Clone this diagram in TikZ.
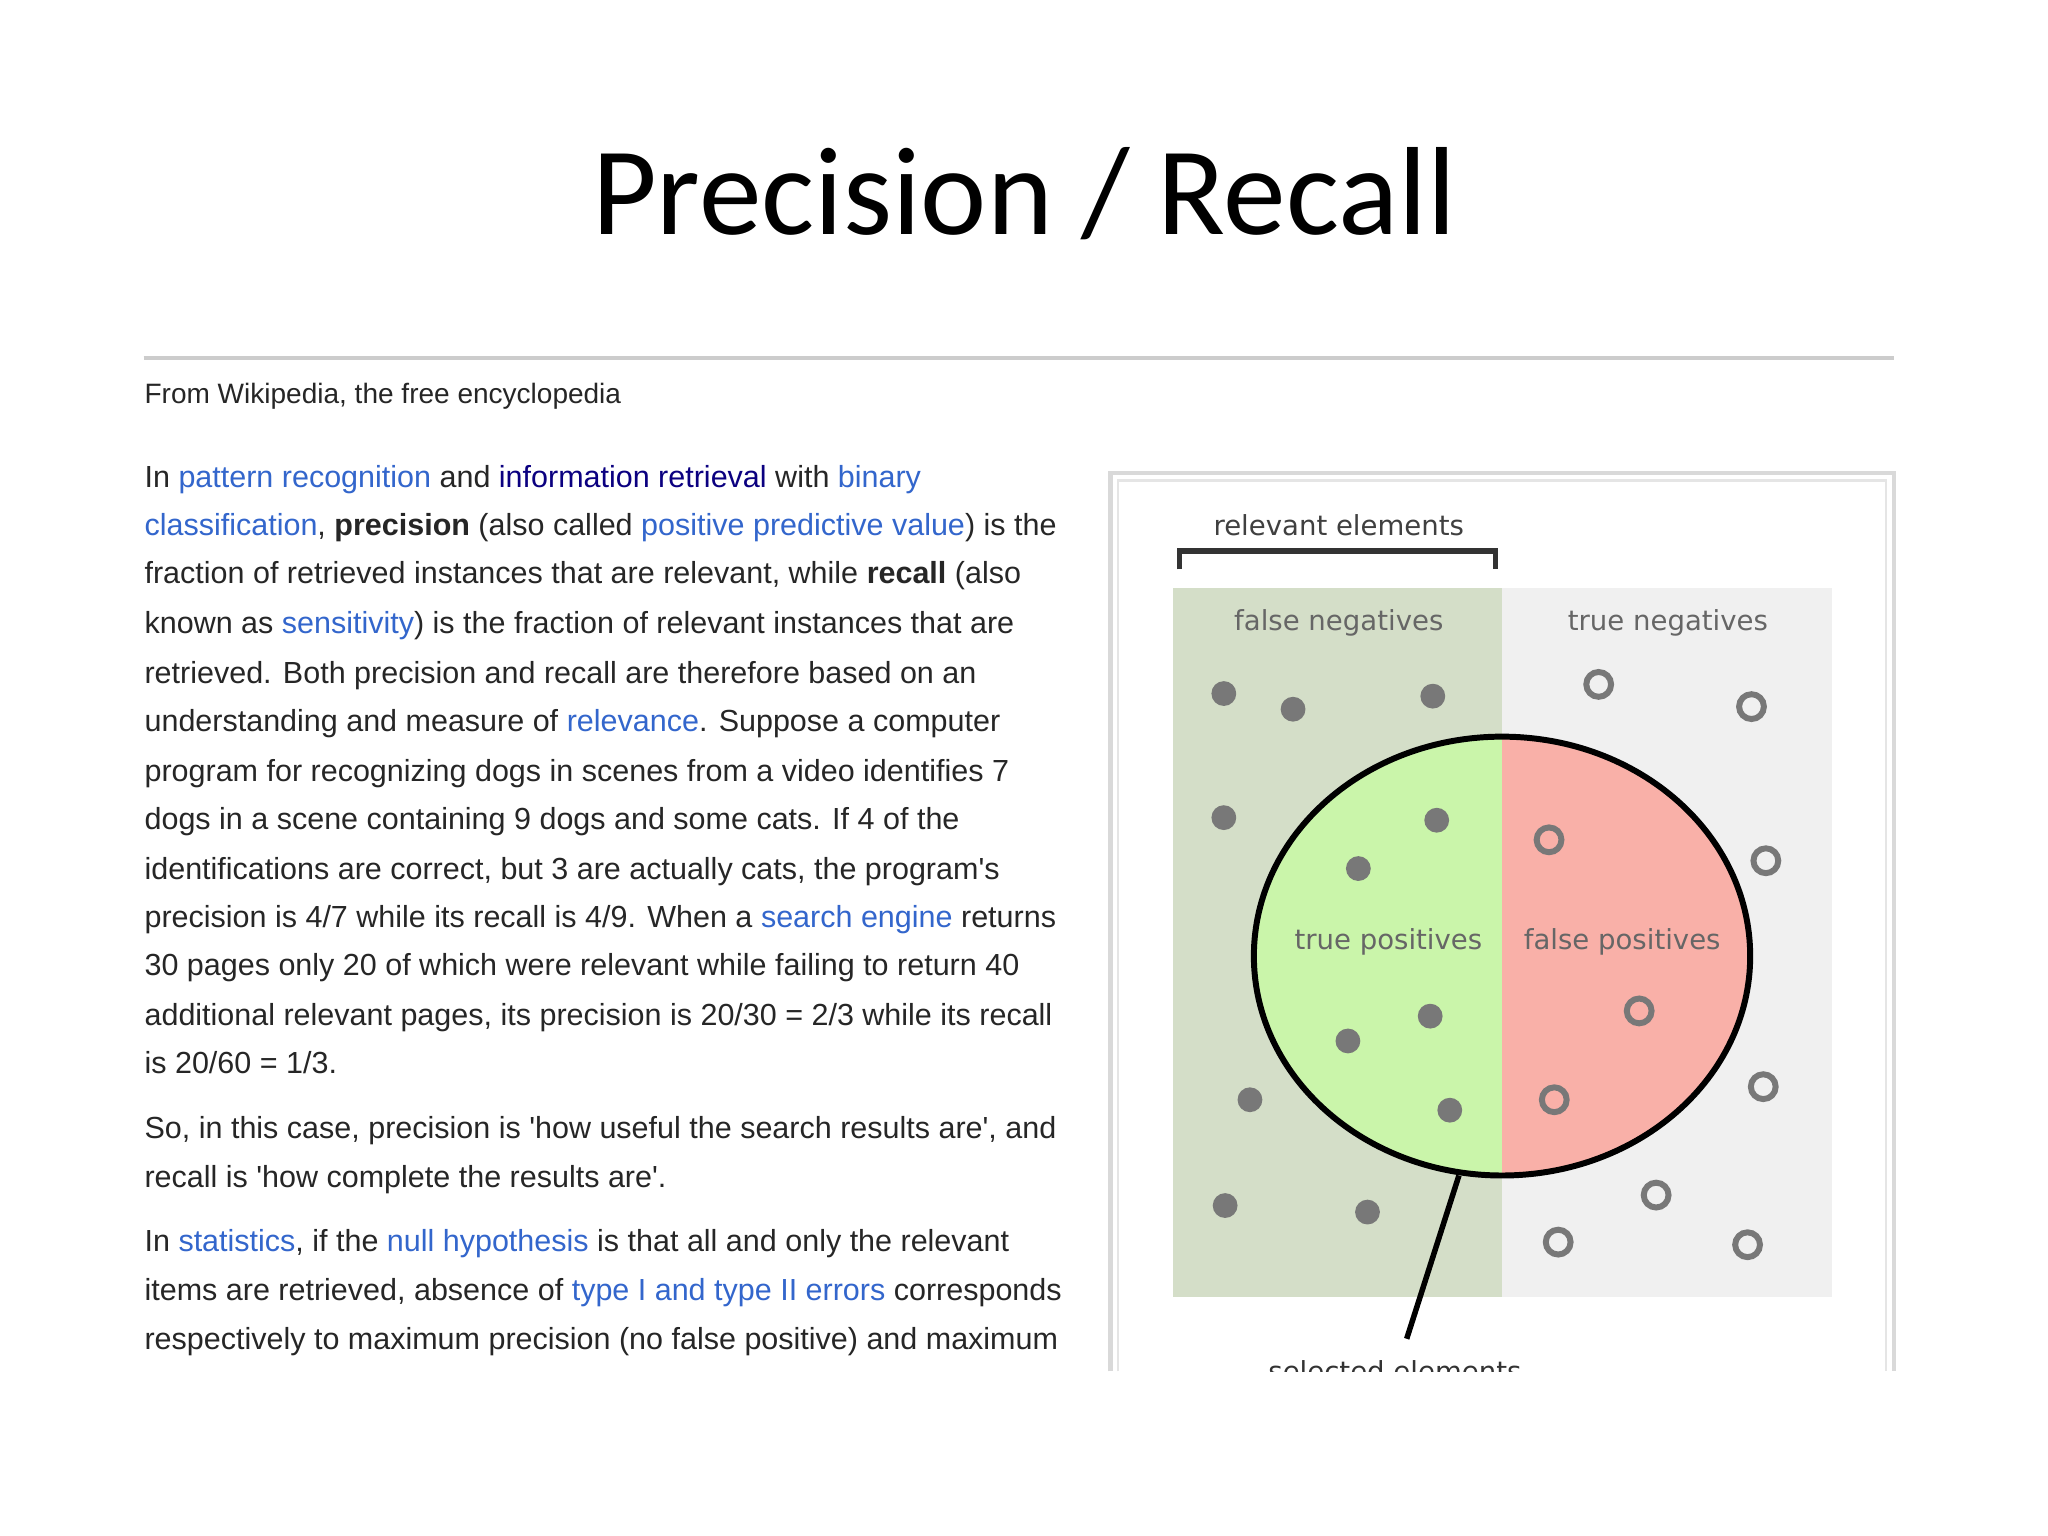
\documentclass[tikz,border=0pt]{standalone}
\usepackage{fontspec}
\setmainfont{Liberation Sans}
\newfontfamily\titlefont{Carlito}
\newfontfamily\dvs{DejaVu Sans}
\definecolor{lnk}{RGB}{51,102,204}
\definecolor{vis}{RGB}{11,0,128}
\definecolor{fn}{RGB}{212,222,200}
\definecolor{tn}{RGB}{240,240,240}
\definecolor{tp}{RGB}{202,245,170}
\definecolor{fp}{RGB}{249,176,168}
\definecolor{dot}{RGB}{120,120,120}
\newcommand\lk[1]{\textcolor{lnk}{#1}}
\newcommand\vk[1]{\textcolor{vis}{#1}}
\newcommand\sq{\textquotesingle}
\begin{document}
\begin{tikzpicture}[x=0.01cm,y=-0.01cm,
  body/.style={anchor=base west,inner sep=0,font=\fontsize{6.64}{8}\selectfont,text=black!85},
  lab/.style={font=\dvs\fontsize{6.0}{7}\selectfont,text=black!60,inner sep=0},
  fdot/.style={fill=dot,draw=none},
  hdot/.style={draw=dot,line width=1.3pt,fill=none}]
\useasboundingbox (0,0) rectangle (1568,1176);
\fill[white] (0,0) rectangle (1568,1176);
\node[font=\titlefont\fontsize{27.3}{33}\selectfont] (title) at (784,148) {Precision / Recall};
\draw[black!20,line width=0.8pt] (110,274) -- (1450,274);
\node[body,font=\fontsize{6.1}{7}\selectfont] (from) at (110,309) {From Wikipedia, the free encyclopedia};
\node[body] (l1) at (110,373) {In \lk{pattern recognition} and \vk{information retrieval} with \lk{binary}};
\node[body] (l2) at (110,410) {\lk{classification}, \textbf{precision} (also called \lk{positive predictive value}) is the};
\node[body] (l3) at (110,447) {fraction of retrieved instances that are relevant, while \textbf{recall} (also};
\node[body] (l4) at (110,485) {known as \lk{sensitivity}) is the fraction of relevant instances that are};
\node[body] (l5) at (110,523) {retrieved. Both precision and recall are therefore based on an};
\node[body] (l6) at (110,560) {understanding and measure of \lk{relevance}. Suppose a computer};
\node[body] (l7) at (110,598) {program for recognizing dogs in scenes from a video identifies 7};
\node[body] (l8) at (110,635) {dogs in a scene containing 9 dogs and some cats. If 4 of the};
\node[body] (l9) at (110,673) {identifications are correct, but 3 are actually cats, the program\sq s};
\node[body] (l10) at (110,710) {precision is 4/7 while its recall is 4/9. When a \lk{search engine} returns};
\node[body] (l11) at (110,747) {30 pages only 20 of which were relevant while failing to return 40};
\node[body] (l12) at (110,785) {additional relevant pages, its precision is 20/30 = 2/3 while its recall};
\node[body] (l13) at (110,822) {is 20/60 = 1/3.};
\node[body] (l14) at (110,872) {So, in this case, precision is \sq how useful the search results are\sq, and};
\node[body] (l15) at (110,909) {recall is \sq how complete the results are\sq.};
\node[body] (l16) at (110,958) {In \lk{statistics}, if the \lk{null hypothesis} is that all and only the relevant};
\node[body] (l17) at (110,996) {items are retrieved, absence of \lk{type I and type II errors} corresponds};
\node[body] (l18) at (110,1033) {respectively to maximum precision (no false positive) and maximum};
% diagram
\draw[black!15,line width=1pt] (850,1050) -- (850,362) -- (1450,362) -- (1450,1050);
\draw[black!10,line width=0.6pt] (856,1050) -- (856,368) -- (1444,368) -- (1444,1050);
\fill[fn] (898,450) rectangle (1150,993);
\fill[tn] (1150,450) rectangle (1403,993);
\begin{scope}
\clip (960,450) rectangle (1150,993);
\fill[tp] (1150,732) ellipse [x radius=190,y radius=168];
\end{scope}
\begin{scope}
\clip (1150,450) rectangle (1345,993);
\fill[fp] (1150,732) ellipse [x radius=190,y radius=168];
\end{scope}
\draw[black,line width=1.3pt] (1150,732) ellipse [x radius=190,y radius=168];
\node[lab,text=black!75] (rel) at (1025,402) {relevant elements};
\draw[black!80,line width=1.2pt] (903,436) -- (903,422) -- (1145,422) -- (1145,436);
\node[lab] (fnl) at (1025,477) {false negatives};
\node[lab] (tnl) at (1277,477) {true negatives};
\node[lab] (tpl) at (1063,721) {true positives};
\node[lab] (fpl) at (1242,721) {false positives};
\coordinate (ept) at (1117,900);
\begin{scope}
\clip (850,362) rectangle (1450,1050);
\node[lab,text=black!80] (sel) at (1068,1050) {selected elements};
\end{scope}
\draw[black,line width=1.2pt] (ept) -- (1077,1025);
\foreach \p in {(937,531),(990,543),(1097,533),(937,626),(1100,628),(1040,665),(1095,778),(1032,797),(957,842),(1110,850),(938,923),(1047,928)}
  \fill[fdot] \p circle (9.5);
\foreach \p in {(1224,524),(1341,541),(1186,643),(1352,659),(1255,774),(1190,842),(1350,832),(1268,915),(1193,951),(1338,953)}
  \draw[hdot] \p circle (9.5);
\end{tikzpicture}
\end{document}
